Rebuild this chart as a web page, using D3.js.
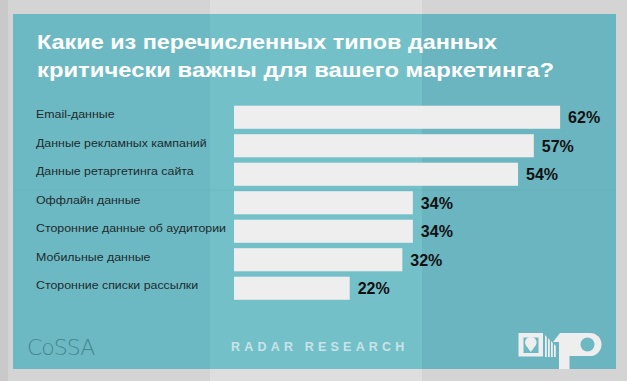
<!DOCTYPE html>
<html><head><meta charset="utf-8">
<script src="https://cdn.jsdelivr.net/npm/d3@7"></script>
<style>html,body{margin:0;padding:0;background:#d6d6d6;}svg{display:block;}</style>
</head><body>
<svg id="c" width="627" height="381"></svg>
<script>
const titleLines = ["Какие из перечисленных типов данных", "критически важны для вашего маркетинга?"];
const categories = ["Email-данные", "Данные рекламных кампаний", "Данные ретаргетинга сайта", "Оффлайн данные", "Сторонние данные об аудитории", "Мобильные данные", "Сторонние списки рассылки"];
const values = [62, 57, 54, 34, 34, 32, 22];
const footerText = "RADAR RESEARCH";
const brandText = "CoSSA";

const svg = d3.select("#c");
const TEAL = "#6db9c3";
// paper background
svg.append("rect").attr("x",0).attr("y",0).attr("width",627).attr("height",381).attr("fill","#d4d4d4");
svg.append("rect").attr("x",210).attr("y",0).attr("width",212).attr("height",381).attr("fill","#dedede");
svg.append("rect").attr("x",0).attr("y",0).attr("width",8).attr("height",381).attr("fill","#c9c9c9");
// teal panel
const P = {x:13, y:14, w:603, h:355};
svg.append("rect").attr("x",P.x).attr("y",P.y).attr("width",P.w).attr("height",P.h).attr("fill",TEAL);
svg.append("rect").attr("x",210).attr("y",P.y).attr("width",212).attr("height",P.h).attr("fill","#76c2cb").attr("opacity",0.8);
svg.append("rect").attr("x",422).attr("y",P.y).attr("width",194).attr("height",P.h).attr("fill","#69b3bd").attr("opacity",0.6);
svg.append("line").attr("x1",P.x).attr("x2",P.x+P.w).attr("y1",190).attr("y2",190).attr("stroke","#62aab3").attr("stroke-width",0.6).attr("opacity",0.5);

// title
const titleLen = [460, 517];
const title = svg.append("g")
  .attr("font-family","Liberation Sans, Arial, sans-serif").attr("font-weight","bold")
  .attr("font-size",20).attr("fill","#ffffff");
titleLines.forEach((t,i)=>title.append("text").attr("x",37).attr("y",49+i*27.5)
  .attr("textLength",titleLen[i]).attr("lengthAdjust","spacingAndGlyphs").text(t));

// scales
const x = d3.scaleLinear().domain([0,100]).range([234, 760]);
const y = d3.scaleBand().domain(categories).range([103, 302.5]).paddingInner(0.19).paddingOuter(0.095);

const g = svg.append("g");
g.selectAll("rect.bar").data(values).join("rect").attr("class","bar")
  .attr("x", x(0)).attr("y",(d,i)=>y(categories[i]))
  .attr("width", d=>x(d)-x(0)).attr("height", y.bandwidth())
  .attr("fill","#eeeeee");

g.selectAll("text.cat").data(categories).join("text").attr("class","cat")
  .attr("x",36).attr("y",d=>y(d)+12.6)
  .attr("font-family","Liberation Sans, Arial, sans-serif").attr("font-size",11.5)
  .attr("fill","#1d2b2e").text(d=>d)
  .each(function(){ const w=this.getComputedTextLength(); d3.select(this).attr("textLength", w*1.075).attr("lengthAdjust","spacingAndGlyphs"); });

g.selectAll("text.val").data(values).join("text").attr("class","val")
  .attr("x",d=>x(d)+8).attr("y",(d,i)=>y(categories[i])+17.6)
  .attr("font-family","Liberation Sans, Arial, sans-serif").attr("font-weight","bold").attr("font-size",16)
  .attr("fill","#111111").text(d=>d+"%");

// footer
svg.append("text").attr("x",27).attr("y",355).attr("font-family","DejaVu Sans, sans-serif")
  .attr("font-weight","200").attr("font-size",22).attr("fill","#44878f").attr("letter-spacing",-1).text(brandText);
svg.append("text").attr("x",231).attr("y",351).attr("font-family","Liberation Sans, Arial, sans-serif")
  .attr("font-weight","bold").attr("font-size",12.5).attr("letter-spacing",4.2).attr("fill","#c8e4e7").text(footerText);

// right logo
const lg = svg.append("g").attr("fill","#eeeeee");
lg.append("rect").attr("x",518.5).attr("y",333).attr("width",24.5).attr("height",23.5);
lg.append("rect").attr("x",523.5).attr("y",337.5).attr("width",15).attr("height",15.5).attr("fill",TEAL);
lg.append("path").attr("d","M530.8,352 L526,345.5 A5.6,5.6 0 1 1 535.6,345.5 Z");
[545,548,551,554].forEach((sx,i)=>{
  lg.append("path").attr("d",`M${sx},${335+i*3} L${sx+1.8},${337+i*3} L${sx+1.8},357 L${sx},357 Z`);
});
lg.append("path").attr("d","M553,342 L560,333 L569.5,333 L569.5,369 L559,369 L559,342 Z");
lg.append("path").attr("d","M569,333 L590,333 A11.5,11.5 0 0 1 590,356 L569,356 Z");
lg.append("circle").attr("cx",587.5).attr("cy",344.5).attr("r",7).attr("fill",TEAL);
</script>
</body></html>
